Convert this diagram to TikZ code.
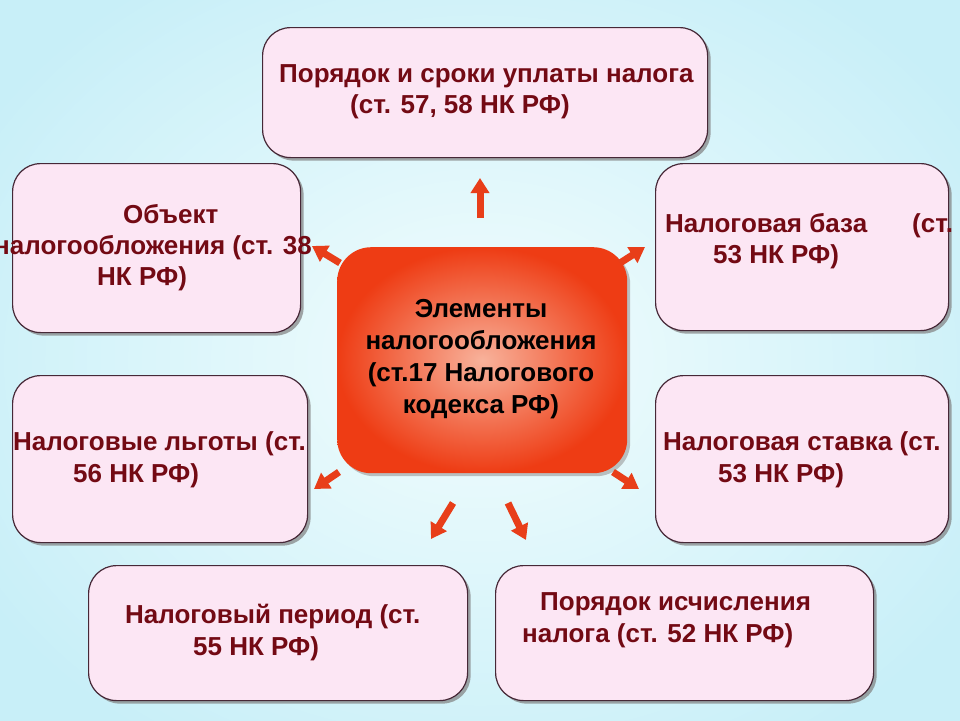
\documentclass[tikz,border=0pt]{standalone}
\usepackage{fontspec}
\setmainfont{Liberation Sans}
\usetikzlibrary{arrows.meta,shadows}
\definecolor{bgin}{RGB}{242,253,253}
\definecolor{bgout}{RGB}{200,239,248}
\definecolor{boxfill}{RGB}{252,230,244}
\definecolor{boxline}{RGB}{70,40,55}
\definecolor{txtred}{RGB}{115,10,20}
\definecolor{arrred}{RGB}{232,62,25}
\definecolor{ctrin}{RGB}{248,178,155}
\definecolor{ctrout}{RGB}{238,60,20}
\begin{document}
\begin{tikzpicture}[x=1pt,y=-1pt,
  infobox/.style={draw=boxline, line width=1.2pt, fill=boxfill, rounded corners=28pt,
    inner sep=0pt, anchor=north west,
    drop shadow={shadow xshift=3pt,shadow yshift=-3pt,fill=black!50,opacity=0.7}},
  ctrbox/.style={inner color=ctrin, outer color=ctrout, rounded corners=34pt,
    inner sep=0pt, anchor=north west,
    drop shadow={shadow xshift=3pt,shadow yshift=-3pt,fill=black!40,opacity=0.6}},
  ctrtextstyle/.style={inner sep=0pt, align=center, text=black,
    font=\bfseries\fontsize{26}{32}\selectfont, anchor=base},
  linetext/.style={anchor=base west, inner sep=0pt, text=txtred,
    font=\bfseries\fontsize{26}{30}\selectfont},
  bigarrow/.style={draw=arrred, line width=7pt, -{Triangle[width=18pt,length=15pt]}}
]
\useasboundingbox (0,0) rectangle (960,720);
\clip (0,0) rectangle (960,720);
\fill[inner color=bgin, outer color=bgout] (-100,-100) rectangle (1060,820);

% boxes
\node[infobox, minimum width=445pt, minimum height=130pt] (bTop) at (262,27) {};
\node[infobox, minimum width=288pt, minimum height=169pt] (bObj) at (12,163) {};
\node[infobox, minimum width=293pt, minimum height=167pt] (bBase) at (655,163) {};
\node[infobox, minimum width=295pt, minimum height=167pt] (bLgot) at (12,375) {};
\node[infobox, minimum width=293pt, minimum height=167pt] (bRate) at (655,375) {};
\node[infobox, minimum width=379pt, minimum height=135pt] (bPer) at (88,565) {};
\node[infobox, minimum width=378pt, minimum height=135pt] (bCalc) at (495,565) {};

% center
\node[ctrbox, minimum width=290pt, minimum height=226pt] (ctr) at (337,247) {};
\node[ctrtextstyle] (ctrtext) at (481,413) {Элементы\\налогообложения\\(ст.17 Налогового\\кодекса РФ)};

% texts
\node[linetext] (tTop1) at (279,82) {Порядок и сроки уплаты налога};
\node[linetext] (tTop2) at (350,113) {(ст. 57, 58 НК РФ)};
\node[linetext] (tObj1) at (123,223) {Объект};
\node[linetext] (tObj2) at (-6,254) {налогообложения (ст. 38};
\node[linetext] (tObj3) at (97,285) {НК РФ)};
\node[linetext] (tBase1) at (665,232) {\makebox[247pt][l]{Налоговая база}(ст.};
\node[linetext] (tBase2) at (713,263) {53 НК РФ)};
\node[linetext] (tLgot1) at (13,450) {Налоговые льготы (ст.};
\node[linetext] (tLgot2) at (73,482) {56 НК РФ)};
\node[linetext] (tRate1) at (663,450) {Налоговая ставка (ст.};
\node[linetext] (tRate2) at (718,482) {53 НК РФ)};
\node[linetext] (tPer1) at (125,623) {Налоговый период (ст.};
\node[linetext] (tPer2) at (193,655) {55 НК РФ)};
\node[linetext] (tCalc1) at (540,610) {Порядок исчисления};
\node[linetext] (tCalc2) at (522,642) {налога (ст. 52 НК РФ)};

% arrows
\coordinate (aUt) at (480,218);  \coordinate (aUh) at (480,178);
\coordinate (aULt) at (340,263); \coordinate (aULh) at (312,246);
\coordinate (aURt) at (620,263); \coordinate (aURh) at (645,247);
\coordinate (aLLt) at (339,472); \coordinate (aLLh) at (314,489);
\coordinate (aLRt) at (613,472); \coordinate (aLRh) at (639,489);
\coordinate (aBLt) at (453,503); \coordinate (aBLh) at (431,539);
\coordinate (aBRt) at (508,503); \coordinate (aBRh) at (526,540);
\draw[bigarrow] (aUt) -- (aUh);
\draw[bigarrow] (aULt) -- (aULh);
\draw[bigarrow] (aURt) -- (aURh);
\draw[bigarrow] (aLLt) -- (aLLh);
\draw[bigarrow] (aLRt) -- (aLRh);
\draw[bigarrow] (aBLt) -- (aBLh);
\draw[bigarrow] (aBRt) -- (aBRh);
\end{tikzpicture}
\end{document}
